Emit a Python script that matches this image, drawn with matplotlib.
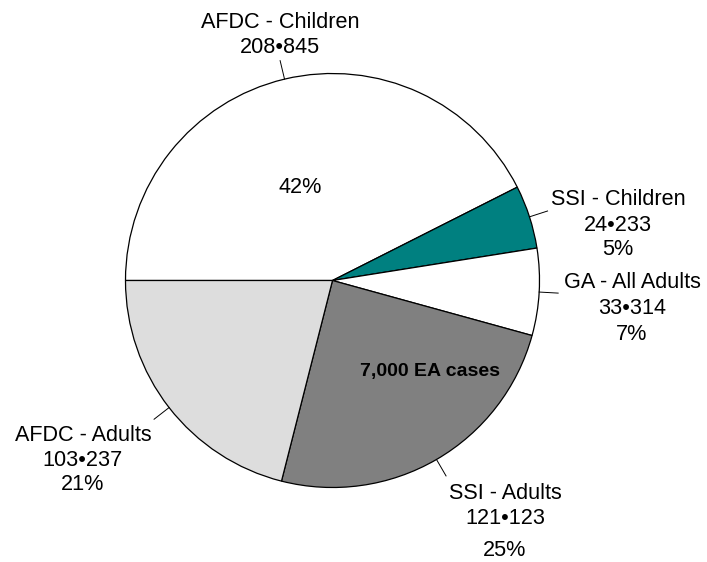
import numpy as np
import matplotlib
matplotlib.use("Agg")
import matplotlib.pyplot as plt

plt.rcParams['font.family'] = ['Liberation Sans', 'DejaVu Sans']

categories = ["AFDC - Children", "SSI - Children", "GA - All Adults", "SSI - Adults", "AFDC - Adults"]
values = [208845, 24233, 33314, 121123, 103237]
value_labels = ["208\u2022845", "24\u2022233", "33\u2022314", "121\u2022123", "103\u2022237"]
pct_labels = ["42%", "5%", "7%", "25%", "21%"]
colors = ["#FFFFFF", "#008080", "#FFFFFF", "#808080", "#DDDDDD"]

W, H = 707, 562
fig = plt.figure(figsize=(W / 100, H / 100), dpi=100)
ax = fig.add_axes([0, 0, 1, 1])

def Y(y):
    return H - y

cx, cy, R = 332.5, 280.5, 207
wedges, _ = ax.pie(values, colors=colors, startangle=180, counterclock=False,
                   center=(cx, Y(cy)), radius=R,
                   wedgeprops=dict(edgecolor="black", linewidth=0.9))
ax.set_xlim(0, W)
ax.set_ylim(0, H)
ax.set_aspect('equal')
ax.axis('off')

# leader lines along each wedge's mid-angle
for w in wedges:
    ang = np.deg2rad((w.theta1 + w.theta2) / 2)
    r0, r1 = R, R + 19
    ax.plot([cx + r0 * np.cos(ang), cx + r1 * np.cos(ang)],
            [Y(cy) + r0 * np.sin(ang), Y(cy) + r1 * np.sin(ang)],
            color="black", linewidth=0.7)

fs = 15.6
# label layouts: (x center, [baselines in px])
layout = {
    0: (280, [28, 53]),
    1: (618, [205, 231, 255]),
    2: (632, [288, 314, 340]),
    3: (505, [499, 524, 556]),
    4: (83, [441, 466, 490]),
}
for i, (x, ys) in layout.items():
    lines = [categories[i], value_labels[i]]
    if len(ys) == 3:
        lines.append(pct_labels[i])
    for txt, yb in zip(lines, ys):
        ax.text(x, Y(yb), txt, ha="center", va="baseline", fontsize=fs, color="black")

# percentage inside the largest wedge
ax.text(300, Y(193), pct_labels[0], ha="center", va="baseline", fontsize=fs, color="black")
ax.text(430, Y(376), "7,000 EA cases", ha="center", va="baseline", fontsize=14,
        fontweight="bold", color="black")

fig.savefig("out.png", dpi=100)
